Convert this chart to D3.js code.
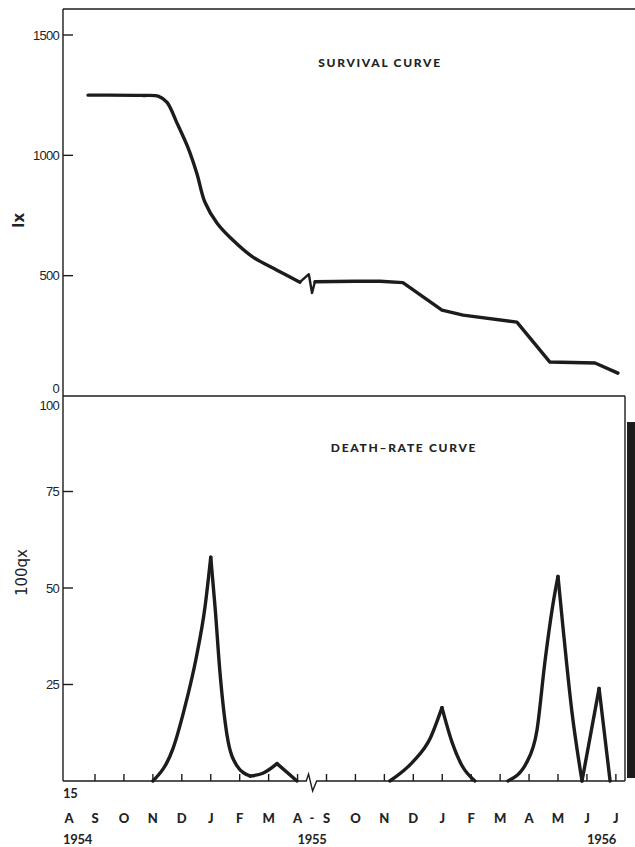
<!DOCTYPE html>
<html>
<head>
<meta charset="utf-8">
<script src="https://cdn.jsdelivr.net/npm/d3@7"></script>
<style>
  html, body { margin: 0; padding: 0; background: #fff; }
  svg { display: block; }
  .ink { stroke: #1c1c1c; fill: none; }
  .tick-label { font-family: "Liberation Sans", Arial, sans-serif; font-size: 13px; letter-spacing: -0.7px; }
  .month { font-family: "Lato", "DejaVu Sans", sans-serif; font-weight: 900; font-size: 13px; }
  .year { font-family: "Lato", "Liberation Sans", sans-serif; font-weight: 700; font-size: 13px; letter-spacing: -0.3px; }
  .title { font-family: "Lato", "DejaVu Sans", sans-serif; font-weight: 900; font-size: 12px; letter-spacing: 1.7px; }
</style>
</head>
<body>
<script>
// Months from 15 Aug 1954 to July 1956 (May-Aug 1955 omitted; axis broken there)
const monthLabels = ["A","S","O","N","D","J","F","M","A","S","O","N","D","J","F","M","A","M","J","J"];
const yearLabels = [
  { text: "1954", month: 0, anchor: "start" },
  { text: "1955", month: 8.5, anchor: "middle" },
  { text: "1956", month: 18.5, anchor: "middle" }
];
const lxTicks = [500, 1000, 1500];
const qxTicks = [25, 50, 75];

// Survival curve lx: [month index, lx]
const survivalBefore = [[0.76,1250],[2.6,1249],[3.2,1245],[3.49,1220],[3.83,1135],[4.21,1033],[4.52,925],[4.80,805],
                        [5.22,718],[5.77,647],[6.46,577],[7.29,523],[8.08,473]];
const survivalBreak  = [[8.08,473],[8.39,506],[8.50,428],[8.60,475]];
const survivalAfter  = [[8.60,475],[10.0,477],[10.85,477],[11.64,471],[12.99,357],[13.72,336],
                        [15.58,307],[16.72,141],[18.28,137],[19.07,95]];

// Death-rate curve 100qx: [month index, 100qx], one array per continuous stretch
const deathWinter1 = [[3.0,0],[3.7,8.5],[4.1,19],[4.5,32],[4.8,45],[5.0,58],[5.15,45],[5.32,28],
                      [5.56,12],[5.9,4],[6.36,1.3],[6.8,2],[7.29,4.5],[7.98,0]];
const deathWinter2 = [[11.19,0],[11.99,5],[12.58,11],[12.99,19],[13.34,10],[13.68,4],[14.13,0]];
const deathSpring2 = [[15.27,0],[15.93,5],[16.27,13],[16.55,31],[16.83,46],[17.0,53],[17.17,40],
                      [17.48,18],[17.83,0],[18.42,24],[18.8,0]];
const finalBar = 93;

const W = 635, H = 847;
const axisX = 63;
const textInk = "#232323";
const svg = d3.select("body").append("svg").attr("width", W).attr("height", H);

const x = d3.scaleLinear().domain([1, 17]).range([95, 558]);
const yTop = d3.scaleLinear().domain([0, 1500]).range([396, 35]);
const yBot = d3.scaleLinear().domain([0, 100]).range([781, 395]);
const breakAt = 8.5;

// ---- frame ----
const frame = svg.append("g").attr("class", "ink").attr("stroke-width", 1.4).attr("stroke", "#3a3a3a");
frame.append("line").attr("x1", axisX).attr("x2", W).attr("y1", 9).attr("y2", 9);
frame.append("line").attr("x1", axisX).attr("x2", axisX).attr("y1", 9).attr("y2", yBot(0));
frame.append("line").attr("x1", axisX).attr("x2", 625).attr("y1", yTop(0)).attr("y2", yTop(0));
frame.append("line").attr("x1", 625).attr("x2", 625).attr("y1", yTop(0)).attr("y2", yBot(0));

// bottom time axis with a break mark between April and September 1955
const y0 = yBot(0);
frame.append("path").attr("d", d3.line()([
  [axisX, y0], [x(breakAt - 0.2), y0], [x(breakAt - 0.12), y0 - 7],
  [x(breakAt + 0.02), y0 + 10], [x(breakAt + 0.16), y0], [625, y0]
]));

// month ticks
frame.selectAll("line.mt").data(d3.range(1, monthLabels.length)).join("line")
  .attr("class", "mt")
  .attr("x1", d => x(d)).attr("x2", d => x(d))
  .attr("y1", y0).attr("y2", y0 - 7);

// y ticks
frame.selectAll("line.lt").data(lxTicks).join("line")
  .attr("class", "lt").attr("x1", axisX).attr("x2", axisX + 10)
  .attr("y1", d => yTop(d)).attr("y2", d => yTop(d));
frame.selectAll("line.qt").data(qxTicks).join("line")
  .attr("class", "qt").attr("x1", axisX).attr("x2", axisX + 10)
  .attr("y1", d => yBot(d)).attr("y2", d => yBot(d));

// ---- y tick labels ----
const tl = svg.append("g").attr("class", "tick-label").attr("text-anchor", "end").attr("fill", textInk);
tl.selectAll("text.l").data(lxTicks).join("text").attr("class", "l")
  .attr("x", 59).attr("y", d => yTop(d) + 4.5).text(d => d);
tl.append("text").attr("x", 59).attr("y", yTop(0) - 3).text("0");
tl.append("text").attr("x", 59).attr("y", yBot(100) + 15).text("100");
tl.selectAll("text.q").data(qxTicks).join("text").attr("class", "q")
  .attr("x", 59).attr("y", d => yBot(d) + 4.5).text(d => d);

// axis titles
svg.append("text").attr("transform", `translate(24,${(yTop(730))}) rotate(-90)`)
  .attr("text-anchor", "middle").attr("fill", textInk)
  .style("font-family", "'DejaVu Sans', sans-serif").style("font-weight", "bold")
  .style("font-size", "15px").text("lx");
svg.append("text").attr("transform", `translate(27,${yBot(54)}) rotate(-90)`)
  .attr("text-anchor", "middle").attr("fill", textInk)
  .style("font-family", "'DejaVu Sans', sans-serif")
  .style("font-size", "15px").text("100qx");

// ---- time labels ----
svg.append("text").attr("class", "year").attr("fill", textInk).attr("x", axisX).attr("y", 798).text("15");
svg.append("g").attr("fill", textInk).selectAll("text").data(monthLabels).join("text")
  .attr("class", "month").attr("text-anchor", "middle")
  .attr("x", (d, i) => i === 0 ? x(i) + 3 : x(i)).attr("y", 823).text(d => d);
svg.append("text").attr("class", "month").attr("fill", textInk).attr("text-anchor", "middle")
  .attr("x", x(breakAt)).attr("y", 822).text("-");
svg.append("g").attr("fill", textInk).selectAll("text").data(yearLabels).join("text")
  .attr("class", "year").attr("text-anchor", d => d.anchor)
  .attr("x", d => d.anchor === "start" ? axisX : x(d.month)).attr("y", 844).text(d => d.text);

// ---- panel titles ----
svg.append("text").attr("class", "title").attr("fill", textInk).attr("text-anchor", "middle")
  .attr("x", 380).attr("y", 67).text("SURVIVAL CURVE");
svg.append("text").attr("class", "title").attr("fill", textInk).attr("text-anchor", "middle")
  .attr("x", 404).attr("y", 452).text("DEATH\u2013RATE CURVE");

// ---- curves ----
const lineTop = d3.line().x(d => x(d[0])).y(d => yTop(d[1]));
const lineBot = d3.line().x(d => x(d[0])).y(d => yBot(d[1]));

const curves = svg.append("g").attr("class", "ink")
  .attr("stroke-width", 3.4).attr("stroke-linejoin", "round").attr("stroke-linecap", "round");

curves.append("path").attr("d", lineTop.curve(d3.curveCatmullRom.alpha(0.5))(survivalBefore));
curves.append("path").attr("d", lineTop.curve(d3.curveLinear)(survivalBreak)).attr("stroke-width", 2.4);
curves.append("path").attr("d", lineTop.curve(d3.curveLinear)(survivalAfter));

// split a series at its local peaks and troughs so each rise and fall is smooth but the tips stay sharp
function pieces(series) {
  const out = [];
  let start = 0;
  for (let i = 1; i < series.length - 1; i++) {
    const a = series[i - 1][1], b = series[i][1], c = series[i + 1][1];
    if ((b > a && b > c) || (b < a && b < c)) { out.push(series.slice(start, i + 1)); start = i; }
  }
  out.push(series.slice(start));
  return out;
}
[deathWinter1, deathWinter2, deathSpring2].forEach(s => {
  pieces(s).forEach(p => curves.append("path").attr("d", lineBot.curve(d3.curveMonotoneX)(p)));
});

// final-month bar at the right edge
svg.append("rect")
  .attr("x", 627).attr("width", W - 627 + 2)
  .attr("y", yBot(finalBar)).attr("height", yBot(0) - 3 - yBot(finalBar))
  .attr("fill", "#1c1c1c");
</script>
</body>
</html>
